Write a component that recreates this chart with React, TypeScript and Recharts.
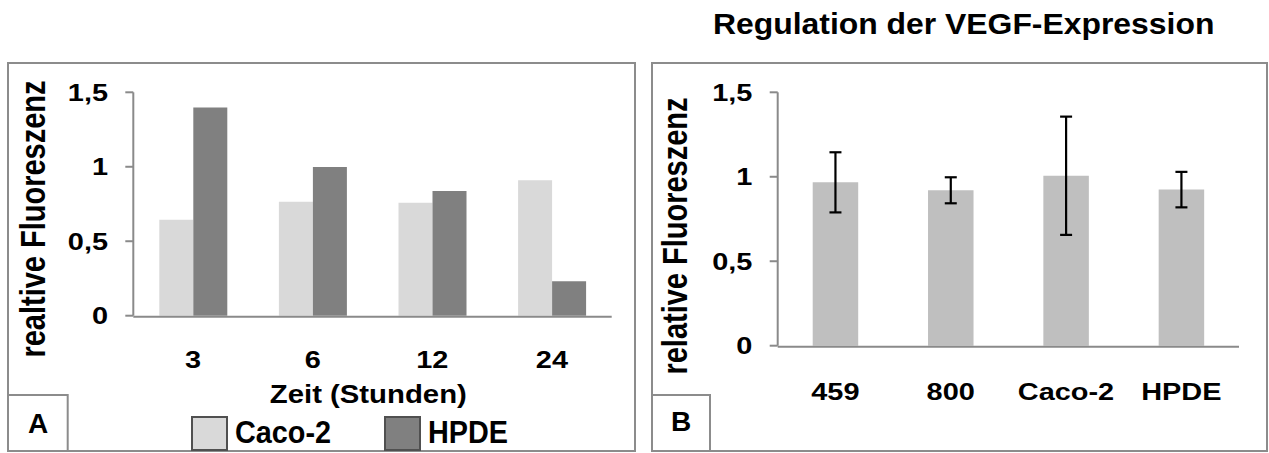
import React from 'react';
import { BarChart, Bar, XAxis, YAxis, ErrorBar } from 'recharts';

// Panel A: Zeitverlauf
const zeitpunkte = ['3', '6', '12', '24'];
const caco2Werte = [0.645, 0.765, 0.758, 0.91];
const hpdeWerte = [1.398, 0.999, 0.837, 0.232];

// Panel B: VEGF-Expression
const zelllinien = ['459', '800', 'Caco-2', 'HPDE'];
const vegfWerte = [0.967, 0.92, 1.006, 0.924];
const vegfFehler = [0.178, 0.077, 0.35, 0.105];

const yTicks = [0, 0.5, 1, 1.5];
const yTickLabels = ['0', '0,5', '1', '1,5'];
const grenzen = [0, 1, 2, 3, 4];

const seriesA = [
    { key: 'caco2', name: 'Caco-2', color: '#d9d9d9' },
    { key: 'hpde', name: 'HPDE', color: '#808080' },
];

const dataA = zeitpunkte.map((t, i) => ({ zeit: t, caco2: caco2Werte[i], hpde: hpdeWerte[i] }));
const dataB = zelllinien.map((z, i) => ({ linie: z, wert: vegfWerte[i], fehler: vegfFehler[i] }));

const FONT = '"Liberation Sans", Arial, Helvetica, sans-serif';
const AXIS = '#8a8a8a';
const BORDER = '#8c8c8c';

const StretchTick = (props: any) => {
    const { x, y, payload, anchor, dy, isY } = props;
    const label = isY ? yTickLabels[yTicks.indexOf(payload.value)] ?? String(payload.value) : payload.value;
    return (
        <g transform={`translate(${x},${y}) scale(1.23,1)`}>
            <text textAnchor={anchor} dy={dy} fontSize={23.5} fontWeight="bold" fill="#000" fontFamily={FONT}>
                {label}
            </text>
        </g>
    );
};

const yAxisProps = {
    type: 'number' as const,
    domain: [0, 1.5],
    ticks: yTicks,
    interval: 0 as const,
    width: 100,
    tickSize: 8,
    tickMargin: 17.3,
    axisLine: { stroke: AXIS, strokeWidth: 2 },
    tickLine: { stroke: AXIS, strokeWidth: 2 },
    tick: (p: any) => <StretchTick {...p} anchor="end" dy={8.4} isY />,
};

// Achse mit Strichen an den Kategoriegrenzen (wie in Excel); liegt 1px unter der Kategorieachse
const grenzAchse = (
    <XAxis
        xAxisId="rand"
        type="number"
        domain={[0, 4]}
        ticks={grenzen}
        height={49}
        tick={false}
        tickSize={8}
        axisLine={{ stroke: AXIS, strokeWidth: 2 }}
        tickLine={{ stroke: AXIS, strokeWidth: 2 }}
    />
);

const ChartA = () => (
    <BarChart
        width={640}
        height={453}
        data={dataA}
        barGap={0}
        barSize={34}
        margin={{ top: 92.3, right: 28.3, left: 33.3, bottom: 87.3 }}
    >
        <XAxis
            xAxisId="kat"
            dataKey="zeit"
            height={1}
            axisLine={false}
            tickLine={false}
            tickSize={8}
            tickMargin={0}
            interval={0}
            tick={(p: any) => <StretchTick {...p} anchor="middle" dy={44.6} />}
        />
        {grenzAchse}
        <YAxis {...yAxisProps} />
        {seriesA.map((s) => (
            <Bar key={s.key} xAxisId="kat" dataKey={s.key} name={s.name} fill={s.color} isAnimationActive={false} />
        ))}
    </BarChart>
);

const ChartB = () => (
    <BarChart
        width={629}
        height={453}
        data={dataB}
        barSize={45.5}
        margin={{ top: 92.3, right: 30, left: 37.7, bottom: 57.3 }}
    >
        <XAxis
            xAxisId="kat"
            dataKey="linie"
            height={1}
            axisLine={false}
            tickLine={false}
            tickSize={8}
            tickMargin={0}
            interval={0}
            tick={(p: any) => <StretchTick {...p} anchor="middle" dy={46.3} />}
        />
        {grenzAchse}
        <YAxis {...yAxisProps} />
        <Bar xAxisId="kat" dataKey="wert" fill="#bfbfbf" isAnimationActive={false}>
            <ErrorBar dataKey="fehler" width={6} stroke="#000" strokeWidth={2.2} direction="y" />
        </Bar>
    </BarChart>
);

const legendX = [192, 385];

const App: React.FC = () => {
    return (
        <div style={{ position: 'absolute', left: 0, top: 0, width: 1269, height: 453, background: '#fff', fontFamily: FONT }}>
            <div style={{ position: 'absolute', left: 0, top: 0 }}>
                <ChartA />
            </div>
            <div style={{ position: 'absolute', left: 640, top: 0 }}>
                <ChartB />
            </div>
            <svg width={1269} height={453} style={{ position: 'absolute', left: 0, top: 0, pointerEvents: 'none' }} fontFamily={FONT} fontWeight="bold">
                {/* Rahmen */}
                <rect x={8} y={63} width={627} height={388} fill="none" stroke={BORDER} strokeWidth={2} />
                <path d="M8 395 H67.7 V451" fill="none" stroke={BORDER} strokeWidth={2} />
                <rect x={652} y={63} width={615} height={388} fill="none" stroke={BORDER} strokeWidth={2} />
                <path d="M652 395 H710 V451" fill="none" stroke={BORDER} strokeWidth={2} />

                <g transform="translate(713,34.3) scale(1.1,1)">
                    <text fontSize={29} fill="#000">Regulation der VEGF-Expression</text>
                </g>

                <text x={38} y={433} fontSize={28} textAnchor="middle" fill="#000">A</text>
                <text x={681} y={431} fontSize={28} textAnchor="middle" fill="#000">B</text>

                <g transform="translate(45,219) rotate(-90) scale(1,1.2)">
                    <text fontSize={29} textAnchor="middle" fill="#000">realtive Fluoreszenz</text>
                </g>
                <g transform="translate(686.7,236) rotate(-90) scale(1,1.2)">
                    <text fontSize={29} textAnchor="middle" fill="#000">relative Fluoreszenz</text>
                </g>

                <g transform="translate(368.3,403.3) scale(1.15,1)">
                    <text fontSize={25.5} textAnchor="middle" fill="#000">Zeit (Stunden)</text>
                </g>

                {seriesA.map((s, i) => (
                    <g key={s.key}>
                        <rect x={legendX[i]} y={417} width={35} height={33} fill={s.color} stroke="#505050" strokeWidth={2} />
                        <g transform={`translate(${legendX[i] + 43},442.5) scale(0.93,1)`}>
                            <text fontSize={31} fill="#000">{s.name}</text>
                        </g>
                    </g>
                ))}
            </svg>
        </div>
    );
};

export default App;
